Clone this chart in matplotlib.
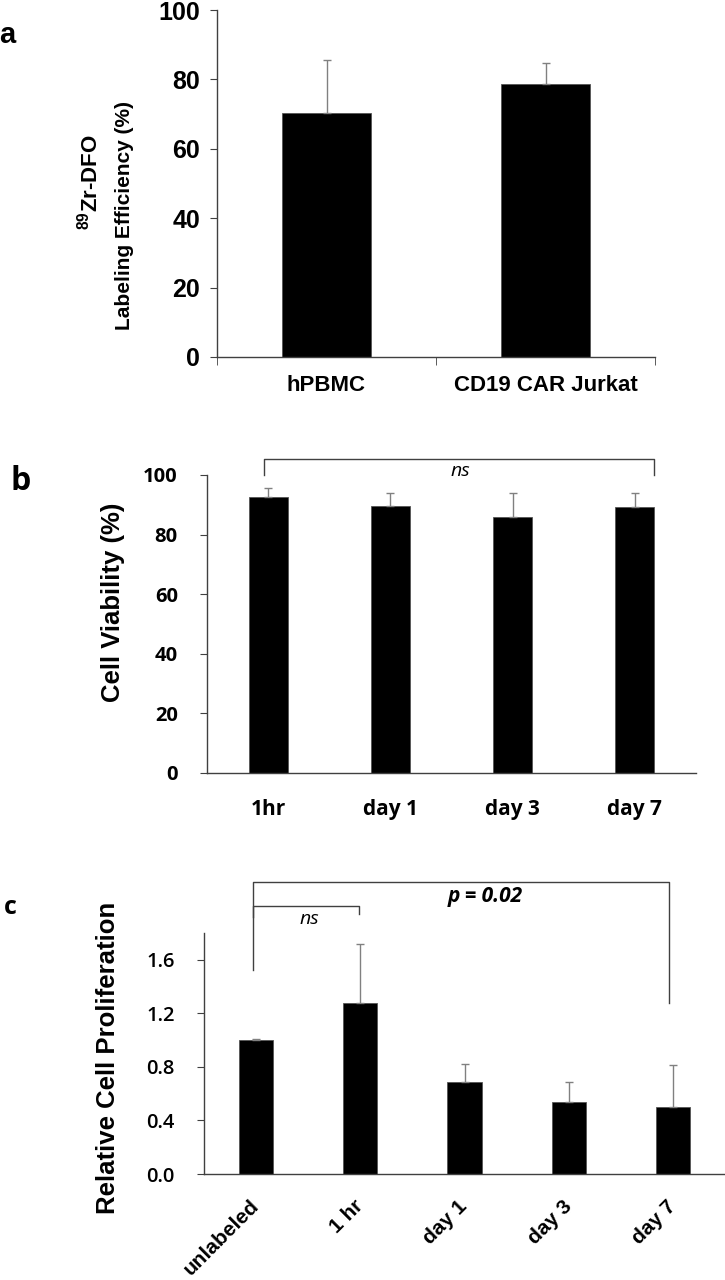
import matplotlib
matplotlib.use("Agg")
import matplotlib.pyplot as plt
import numpy as np

plt.rcParams["mathtext.fontset"] = "custom"
plt.rcParams["mathtext.rm"] = "Liberation Sans:bold"
plt.rcParams["mathtext.bf"] = "Liberation Sans:bold"

ARIAL = "Liberation Sans"
MALG = "Open Sans"
SPINE = "#404040"
ERR = "#808080"

# panel a: labeling efficiency
cat_a = ["hPBMC", "CD19 CAR Jurkat"]
val_a = [70.2, 78.6]
err_a = [15.3, 6.0]

# panel b: cell viability
cat_b = ["1hr", "day 1", "day 3", "day 7"]
val_b = [92.7, 89.6, 86.0, 89.2]
err_b = [3.1, 4.4, 8.0, 4.8]

# panel c: relative proliferation
cat_c = ["unlabeled", "1 hr", "day 1", "day 3", "day 7"]
val_c = [1.00, 1.28, 0.69, 0.54, 0.50]
err_c = [0.005, 0.44, 0.13, 0.15, 0.315]

W, H = 725, 1280
fig = plt.figure(figsize=(7.25, 12.8), dpi=100)


def px_axes(l, r, t, b):
    return fig.add_axes([l / W, 1 - b / H, (r - l) / W, (b - t) / H])


def style(ax):
    for s in ["top", "right"]:
        ax.spines[s].set_visible(False)
    for s in ["left", "bottom"]:
        ax.spines[s].set_color(SPINE)
        ax.spines[s].set_linewidth(1.0)


def bars(ax, vals, errs, width):
    x = np.arange(len(vals))
    ax.bar(x, vals, width, color="black", edgecolor="#555555", linewidth=0.6, zorder=2)
    ax.errorbar(x, vals, yerr=[np.zeros(len(errs)), errs], fmt="none", ecolor=ERR,
                elinewidth=1.0, capsize=3, capthick=1.0, zorder=3)
    return x


# ---- a
ax = px_axes(217, 655, 10, 357)
style(ax)
x = bars(ax, val_a, err_a, 0.41)
ax.set_xlim(-0.5, 1.5)
ax.set_ylim(0, 100)
ax.set_yticks(np.arange(0, 101, 20))
ax.set_xticks(x)
ax.set_xticklabels(cat_a, fontfamily=ARIAL, fontweight="bold", fontsize=16)
ax.set_xticks([-0.5, 0.5, 1.5], minor=True)
ax.tick_params(axis="x", which="major", length=0, pad=13)
ax.tick_params(axis="x", which="minor", length=6, color=SPINE, direction="out")
ax.tick_params(axis="y", length=5, color=SPINE, pad=7)
for t in ax.get_yticklabels():
    t.set_fontfamily(ARIAL); t.set_fontweight("bold"); t.set_fontsize(18)
fig.text(90 / W, 1 - 182 / H, r"$^{89}$Zr-DFO", rotation=90, ha="center", va="center",
         fontfamily=ARIAL, fontweight="bold", fontsize=16)
fig.text(124 / W, 1 - 216 / H, "Labeling Efficiency (%)", rotation=90, ha="center", va="center",
         fontfamily=ARIAL, fontweight="bold", fontsize=15)
fig.text(7 / W, 1 - 35 / H, "a", ha="center", va="center", fontfamily=ARIAL, fontweight="bold", fontsize=21)

# ---- b
ax = px_axes(207, 696, 475, 773)
style(ax)
x = bars(ax, val_b, err_b, 0.32)
ax.set_xlim(-0.5, 3.5)
ax.set_ylim(0, 100)
ax.set_yticks(np.arange(0, 101, 20))
ax.set_xticks(x)
ax.set_xticklabels(cat_b, fontfamily=MALG, fontweight="bold", fontsize=15)
ax.tick_params(axis="x", length=0, pad=19)
ax.tick_params(axis="y", length=5, color=SPINE, pad=16)
for t in ax.get_yticklabels():
    t.set_fontfamily(MALG); t.set_fontweight("bold"); t.set_fontsize(14.5)
ax.plot([-0.03, -0.03, 3.16, 3.16], [100, 105.3, 105.3, 100], color=SPINE, lw=1.0, clip_on=False)
ax.text(1.57, 101.5, "ns", ha="center", va="center", fontfamily=MALG, style="italic", fontsize=14)
fig.text(113 / W, 1 - 602 / H, "Cell Viability (%)", rotation=90, ha="center", va="center",
         fontfamily=ARIAL, fontweight="bold", fontsize=18.5)
fig.text(21 / W, 1 - 481 / H, "b", ha="center", va="center", fontfamily=MALG, fontweight="bold", fontsize=23)

# ---- c
ax = px_axes(204, 725, 933, 1174)
style(ax)
x = bars(ax, val_c, err_c, 0.33)
ax.set_xlim(-0.5, 4.5)
ax.set_ylim(0, 1.8)
ax.set_yticks(np.arange(0, 1.61, 0.4))
ax.set_yticklabels([f"{v:.1f}" for v in np.arange(0, 1.61, 0.4)], fontfamily=MALG,
                   fontweight="semibold", fontsize=14.5)
ax.set_xticks(x)
ax.set_xticklabels(cat_c, fontfamily=ARIAL, fontweight="bold", fontsize=15, rotation=45,
                   ha="right", va="center", rotation_mode="anchor")
ax.tick_params(axis="x", length=0, pad=21)
ax.tick_params(axis="y", length=5, color=SPINE, pad=16)
ax.plot([-0.03, -0.03, 3.96, 3.96], [1.525, 2.18, 2.18, 1.28], color=SPINE, lw=1.0, clip_on=False)
ax.plot([-0.03, -0.03, 0.99, 0.99], [1.92, 2.00, 2.00, 1.94], color=SPINE, lw=1.0, clip_on=False)
ax.text(0.51, 1.905, "ns", ha="center", va="center", fontfamily=MALG, style="italic", fontsize=14)
ax.text(2.20, 2.07, "p = 0.02", ha="center", va="center", fontfamily=MALG, style="italic",
        fontweight="bold", fontsize=15)
fig.text(108 / W, 1 - 1058 / H, "Relative Cell Proliferation", rotation=90, ha="center", va="center",
         fontfamily=ARIAL, fontweight="bold", fontsize=18.5)
fig.text(10 / W, 1 - 908 / H, "c", ha="center", va="center", fontfamily=MALG, fontweight="bold", fontsize=18)

fig.savefig("out.png", dpi=100, facecolor="white")
print("saved")
